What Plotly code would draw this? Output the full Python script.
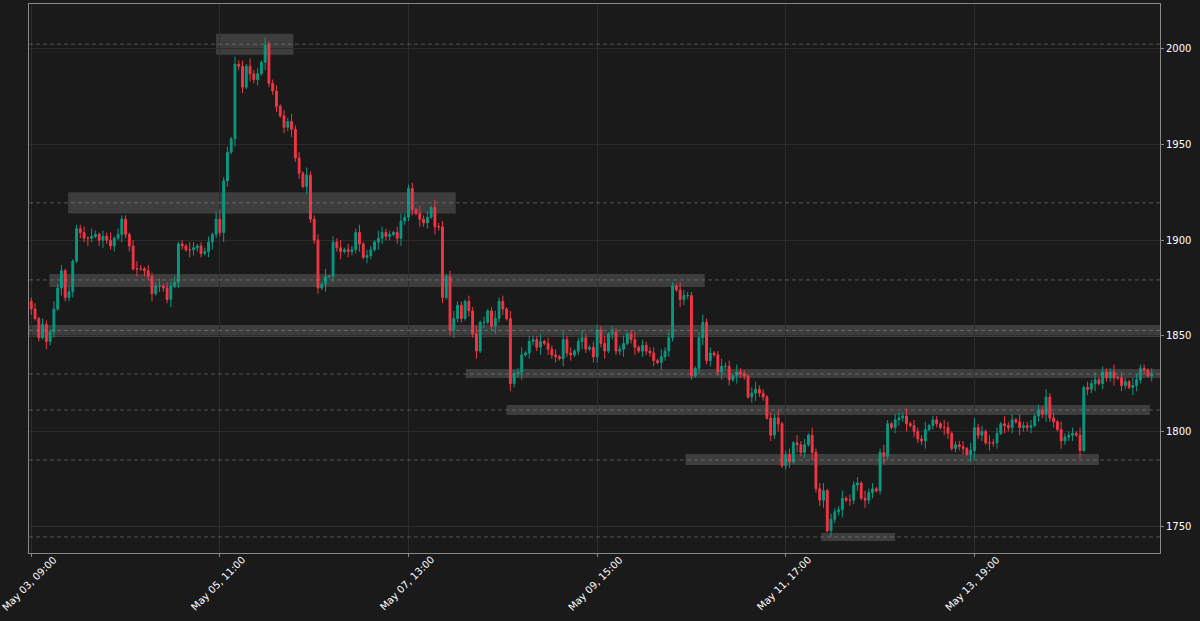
import plotly.graph_objects as go
import pandas as pd

start = "2024-05-03 09:00"
first_open = 1868
closes = [1864,1859,1849,1856,1847,1852,1864,1875,1884,1870,
1873,1889,1906,1904,1901,1901,1902,1903,1900,1902,1900,1897,1901,1903,1911,1903,1897,1885,1885,1885,1884,1881,1872,1876,1876,1875,1869,1876,1878,1898,1897,1895,1895,1896,1897,1893,1894,1899,1903,1911,1904,1931,
1946,1953,1992,1991,1980,1991,1987,1984,1987,1993,2002,1982,1978,1970,1965,1959,1962,1958,1943,1935,1928,1934,1911,1900,1875,1877,1881,1881,1899,1896,1894,1895,1894,1895,1904,1898,1891,1892,1895,1899,1901,1904,1902,1903,1904,1901,1910,1912,
1927,1916,1914,1911,1909,1912,1917,1907,1907,1870,1881,1853,1859,1866,1859,1868,1863,1851,1842,1857,1857,1863,1855,1859,1868,1864,1859,1825,1830,1831,1840,1841,1847,1848,1844,1847,1846,1843,1840,1839,1838,1848,1841,1840,1842,1847,1849,1843,1844,1839,
1853,1846,1842,1851,1852,1842,1843,1846,1851,1848,1844,1842,1845,1842,1841,1837,1836,1839,1842,1849,1876,1874,1869,1871,1871,1829,1833,1849,1857,1837,1841,1840,1831,1834,1834,1827,1829,1831,1830,1829,1818,1820,1822,1820,1818,1807,1798,1807,1804,1782,1788,
1784,1794,1793,1789,1793,1798,1789,1770,1764,1769,1748,1754,1758,1759,1765,1764,1764,1772,1773,1765,1764,1768,1770,1769,1789,1787,1804,1802,1806,1807,1808,1804,1803,1800,1796,1795,1801,1803,1806,1804,1802,1802,1799,1791,1793,1792,1791,1788,
1790,1802,1798,1800,1794,1794,1794,1799,1804,1803,1802,1806,1805,1802,1803,1802,1803,1808,1811,1809,1818,1807,1805,1801,1795,1797,1798,1799,1798,1790,1823,1822,1825,1827,1825,1831,1828,1831,1828,1828,1824,1826,1823,1824,1827,1833,1832,1829,1830]
upper_wick = "2313214231312231421324132213421322413231214312231452314231423142231324231422314132413224132143221342231423142313422132413124231422413224132314231242133241322412413223142321432213423124231422134221324123142314234132241323142312421332413224122143122314523142314231422313242314223141324132241321432213421"
lower_wick = "3121423142231324213422314231413241322413214322134225314231423142231324231422314132413224132143221342231423142313422132413124231422413224132314231242133241322412413223142321432213423124231422134221324123142314234132241323142312421332413224122143122314523142314231422313242314223141324132241321432213421"

zones = [  # (start hour, end hour, low, high)
    (49, 69.5, 1997, 2008), (9.8, 112.5, 1914, 1925), (4.8, 178.5, 1875.5, 1882.3),
    (-1, 300, 1849.4, 1855.6), (115.2, 300, 1827.9, 1832.6), (126, 296.5, 1808.6, 1813.8),
    (173.4, 283, 1782.4, 1788.2), (209.4, 229, 1742.7, 1746.9)]
levels = [2002.5, 1919.5, 1879.2, 1852.8, 1830, 1811.2, 1785, 1744.8]

n = len(closes)
t0 = pd.Timestamp(start)
times = pd.date_range(start, periods=n, freq="h")
opens = [first_open] + closes[:-1]
highs = [max(o, c) + int(upper_wick[i % len(upper_wick)]) for i, (o, c) in enumerate(zip(opens, closes))]
lows = [min(o, c) - int(lower_wick[i % len(lower_wick)]) for i, (o, c) in enumerate(zip(opens, closes))]

fig = go.Figure(go.Candlestick(
    x=times, open=opens, high=highs, low=lows, close=closes,
    increasing=dict(line=dict(color="#089981", width=1), fillcolor="#089981"),
    decreasing=dict(line=dict(color="#f23645", width=1), fillcolor="#f23645"),
    whiskerwidth=0, showlegend=False))

h = pd.Timedelta(hours=1)
for a, b, lo, hi in zones:
    fig.add_shape(type="rect", x0=t0 + a * h, x1=t0 + b * h, y0=lo, y1=hi,
                  fillcolor="rgba(128,128,128,0.35)", line_width=0, layer="below")
for lv in levels:
    fig.add_shape(type="line", xref="paper", x0=0, x1=1, y0=lv, y1=lv,
                  line=dict(color="rgba(150,150,150,0.6)", width=0.8, dash="4px,3px"))

tickvals = [t0 + 50 * k * h for k in range(6)]
for tv in tickvals:
    fig.add_annotation(x=tv, y=0, yref="paper", text=tv.strftime("%b %d, %H:%M"), showarrow=False,
                       textangle=-45, xanchor="center", yanchor="middle", xshift=-2, yshift=-30,
                       font=dict(color="white", size=10, family="DejaVu Sans"))
fig.update_layout(
    width=1200, height=621, paper_bgcolor="#1a1a1a", plot_bgcolor="#1a1a1a",
    margin=dict(l=29, r=40, t=4, b=68, autoexpand=False),
    xaxis=dict(range=[t0 - 0.6 * h, t0 + 299.2 * h], rangeslider=dict(visible=False), automargin=False,
               tickvals=tickvals, showticklabels=False,
               showgrid=True, gridcolor="#2c2c2c", showline=True, linecolor="#888", mirror=True,
               ticks="outside", tickcolor="#888", ticklen=3),
    yaxis=dict(side="right", range=[1736.4, 2023.5], tickvals=[1750, 1800, 1850, 1900, 1950, 2000],
               automargin=False,
               tickfont=dict(color="white", size=10, family="DejaVu Sans"),
               showgrid=True, gridcolor="#2c2c2c", showline=True, linecolor="#888", mirror=True,
               ticks="outside", tickcolor="#888", ticklen=3),
)
fig.write_html("out.html", config={"displayModeBar": False})
with open("out.html", encoding="utf-8") as f:
    html = f.read()
html = html.replace("<body>", '<body style="margin:0;padding:0;background:#1a1a1a;overflow:hidden">', 1)
with open("out.html", "w", encoding="utf-8") as f:
    f.write(html)
